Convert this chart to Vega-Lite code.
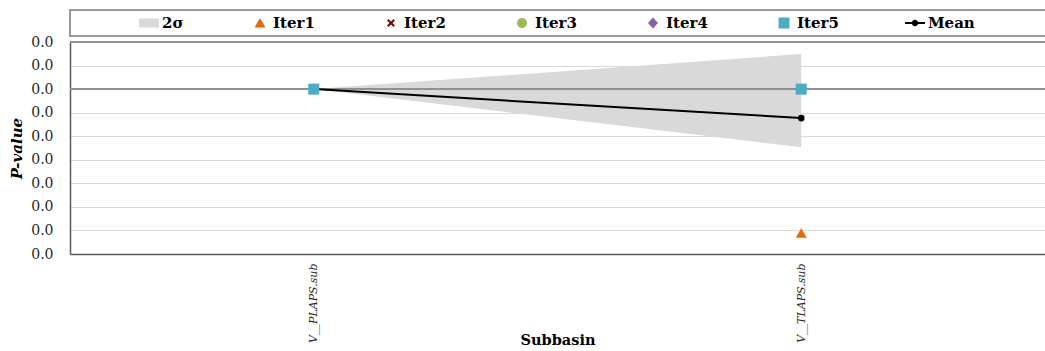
{
  "$schema": "https://vega.github.io/schema/vega-lite/v6.json",
  "padding": {"left": 9, "top": 9, "right": 0, "bottom": 0},
  "config": {
    "font": "DejaVu Serif",
    "view": {"stroke": null},
    "concat": {"spacing": -2}
  },
  "datasets": {
    "pts": [
      {"sub": "V__PLAPS.sub", "series": "Iter1", "p": 0},
      {"sub": "V__PLAPS.sub", "series": "Iter2", "p": 0},
      {"sub": "V__PLAPS.sub", "series": "Iter3", "p": 0},
      {"sub": "V__PLAPS.sub", "series": "Iter4", "p": 0},
      {"sub": "V__PLAPS.sub", "series": "Iter5", "p": 0},
      {"sub": "V__TLAPS.sub", "series": "Iter1", "p": -0.0612},
      {"sub": "V__TLAPS.sub", "series": "Iter2", "p": 0},
      {"sub": "V__TLAPS.sub", "series": "Iter3", "p": 0},
      {"sub": "V__TLAPS.sub", "series": "Iter4", "p": 0},
      {"sub": "V__TLAPS.sub", "series": "Iter5", "p": 0}
    ],
    "stats": [
      {"sub": "V__PLAPS.sub", "mean": 0, "lo": 0, "hi": 0},
      {"sub": "V__TLAPS.sub", "mean": -0.0123, "lo": -0.0247, "hi": 0.0149}
    ]
  },
  "vconcat": [
    {
      "width": 976,
      "height": 26,
      "view": {"stroke": "#7a7a7a", "strokeWidth": 1.5},
      "data": {"values": [{}]},
      "mark": {"type": "text", "text": ""}
    },
    {
      "width": 975,
      "height": 212,
      "encoding": {
        "x": {
          "field": "sub",
          "type": "nominal",
          "scale": {"type": "point", "padding": 0.5},
          "axis": {
            "title": "Subbasin",
            "titleFontSize": 14.5,
            "titleFontWeight": "bold",
            "titleColor": "#000000",
            "titlePadding": -9,
            "labelAngle": -90,
            "labelFontStyle": "italic",
            "labelFontSize": 11,
            "labelColor": "#262626",
            "labelPadding": 9,
            "ticks": false,
            "grid": false,
            "domainColor": "#595959",
            "domainWidth": 1.5
          }
        }
      },
      "layer": [
        {
          "data": {"name": "stats"},
          "mark": {"type": "area", "color": "#d9d9d9", "opacity": 1},
          "encoding": {
            "y": {
              "field": "lo",
              "type": "quantitative",
              "scale": {"domain": [-0.07, 0.02], "nice": false, "zero": false},
              "axis": {
                "title": "P-value",
                "titleFontSize": 15,
                "titleFontWeight": "bold",
                "titleFontStyle": "italic",
                "titleColor": "#000000",
                "titlePadding": 6,
                "values": [-0.07, -0.06, -0.05, -0.04, -0.03, -0.02, -0.01, 0, 0.01, 0.02],
                "tickCount": 10,
                "labelExpr": "'0.0'",
                "labelOverlap": false,
                "labelFontSize": 14,
                "labelColor": "#262626",
                "labelPadding": 17,
                "ticks": false,
                "grid": true,
                "gridColor": "#d9d9d9",
                "gridWidth": 1,
                "domainColor": "#595959",
                "domainWidth": 1.5
              }
            },
            "y2": {"field": "hi"}
          }
        },
        {
          "data": {"name": "stats"},
          "mark": {"type": "rule", "color": "#8a8a8a", "strokeWidth": 1.5},
          "encoding": {"y": {"datum": 0, "type": "quantitative"}, "x": null}
        },
        {
          "data": {"name": "stats"},
          "mark": {"type": "rule", "color": "#8a8a8a", "strokeWidth": 1.5},
          "encoding": {"y": {"datum": 0.02, "type": "quantitative"}, "x": null}
        },
        {
          "data": {"name": "stats"},
          "mark": {
            "type": "line",
            "color": "#000000",
            "strokeWidth": 2,
            "point": {"filled": true, "color": "#000000", "size": 45, "opacity": 1}
          },
          "encoding": {
            "y": {"field": "mean", "type": "quantitative"}
          }
        },
        {
          "data": {"name": "pts"},
          "mark": {"type": "point", "filled": true, "size": 400, "opacity": 1, "strokeWidth": 0},
          "encoding": {
            "y": {"field": "p", "type": "quantitative"},
            "color": {
              "field": "series",
              "type": "nominal",
              "scale": {
                "domain": ["2σ", "Iter1", "Iter2", "Iter3", "Iter4", "Iter5", "Mean"],
                "range": ["#d9d9d9", "#e36c09", "#7b0c0c", "#9bbb59", "#8064a2", "#4bacc6", "#000000"]
              },
              "legend": {
                "orient": "none",
                "legendX": 69,
                "legendY": 3,
                "direction": "horizontal",
                "columns": 7,
                "title": null,
                "labelFontWeight": "bold",
                "labelFontSize": 15,
                "labelColor": "#000000",
                "symbolSize": 400,
                "symbolStrokeWidth": 0,
                "labelOffset": 3,
                "columnPadding": 66,
                "padding": 0
              }
            },
            "shape": {
              "field": "series",
              "type": "nominal",
              "scale": {
                "domain": ["2σ", "Iter1", "Iter2", "Iter3", "Iter4", "Iter5", "Mean"],
                "range": [
                  "M-1,-0.45H1V0.45H-1Z",
                  "M0,-0.5L0.55,0.45L-0.55,0.45Z",
                  "M-0.4,-0.24L-0.24,-0.4L0,-0.16L0.24,-0.4L0.4,-0.24L0.16,0L0.4,0.24L0.24,0.4L0,0.16L-0.24,0.4L-0.4,0.24L-0.16,0Z",
                  "M0.5,0A0.5,0.5,0,1,1,-0.5,0A0.5,0.5,0,1,1,0.5,0Z",
                  "M0,-0.55L0.5,0L0,0.55L-0.5,0Z",
                  "M-0.55,-0.55H0.55V0.55H-0.55Z",
                  "M-1,-0.1H1V0.1H-1Z M0.32,0A0.32,0.32,0,1,1,-0.32,0A0.32,0.32,0,1,1,0.32,0Z"
                ]
              }
            }
          }
        }
      ]
    }
  ]
}
